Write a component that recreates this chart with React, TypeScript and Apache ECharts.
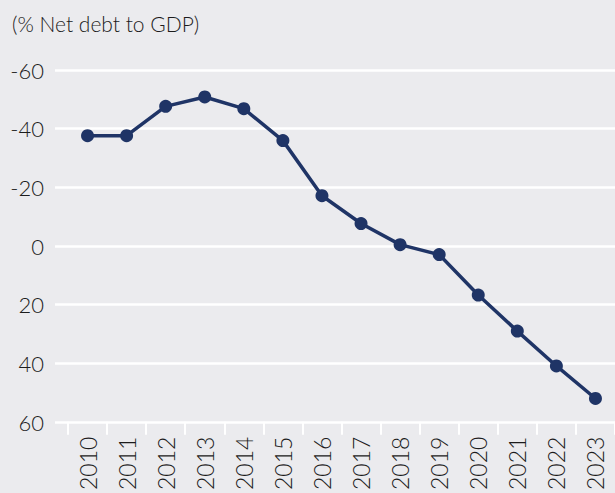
import React, { useEffect, useRef } from "react";
import * as echarts from "echarts";

const years = ["2010","2011","2012","2013","2014","2015","2016","2017","2018","2019","2020","2021","2022","2023"];
const netDebt = [-37.6,-37.6,-47.6,-50.8,-46.8,-35.9,-17.1,-7.6,-0.4,3.0,16.8,29.1,41.0,52.1];
const yMin = -60;
const yMax = 60;
const yStep = 20;
const title = "(% Net debt to GDP)";

const FONT = "Lato, 'Open Sans', sans-serif";
const TEXT = "#1c1c1c";

export default function App() {
  const ref = useRef<HTMLDivElement>(null);
  useEffect(() => {
    if (!ref.current) return;
    const chart = echarts.init(ref.current, null, { renderer: "svg" });
    chart.setOption({
      animation: false,
      backgroundColor: "#ebebee",
      textStyle: { fontFamily: FONT },
      title: {
        text: title,
        left: 7,
        top: 8,
        textStyle: { fontFamily: FONT, fontSize: 21, fontWeight: 300, color: TEXT },
      },
      grid: [
        { left: 55, right: 0, top: 70, height: 352, containLabel: false },
        { left: 68, width: 553.5, top: 70, height: 352, containLabel: false },
      ],
      xAxis: [
        { type: "value", gridIndex: 0, show: false, min: 0, max: 1 },
        {
          type: "category",
          gridIndex: 1,
          data: years,
          boundaryGap: true,
          position: "bottom",
          axisLine: { show: false, onZero: false },
          axisTick: { show: true, length: 13, lineStyle: { color: "#ffffff", width: 2 } },
          axisLabel: { rotate: 90, fontSize: 23, fontWeight: 300, color: TEXT, margin: 15, fontFamily: FONT, interval: 0 },
          splitLine: { show: false },
        },
      ],
      yAxis: [
        {
          type: "value",
          gridIndex: 0,
          inverse: true,
          min: yMin,
          max: yMax,
          interval: yStep,
          axisLine: { show: false },
          axisTick: { show: false },
          axisLabel: { fontSize: 22, fontWeight: 300, color: TEXT, margin: 11, fontFamily: FONT },
          splitLine: { show: true, lineStyle: { color: "#ffffff", width: 2.5 } },
        },
        {
          type: "value",
          gridIndex: 1,
          inverse: true,
          min: yMin,
          max: yMax,
          interval: yStep,
          show: false,
          splitLine: { show: false },
        },
      ],
      series: [
        {
          type: "line",
          xAxisIndex: 1,
          yAxisIndex: 1,
          data: netDebt,
          symbol: "circle",
          symbolSize: 13,
          lineStyle: { color: "#1f3466", width: 3.5 },
          itemStyle: { color: "#1f3466" },
          clip: false,
        },
      ],
    });
    return () => chart.dispose();
  }, []);
  return (
    <div
      ref={ref}
      style={{ position: "absolute", left: 0, top: 0, width: 615, height: 493, background: "#ebebee" }}
    />
  );
}
